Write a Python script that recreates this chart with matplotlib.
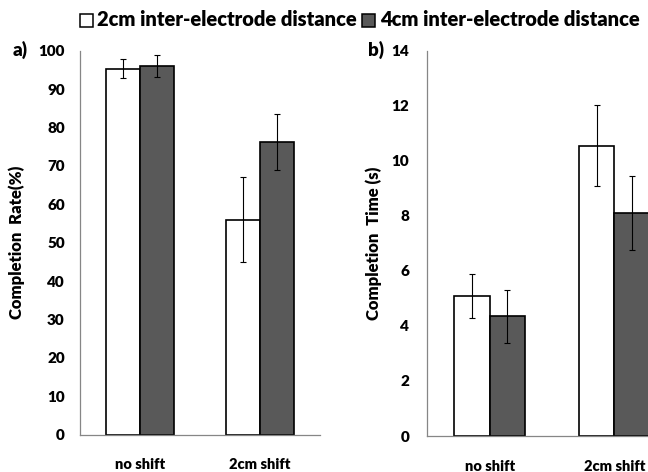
import matplotlib
matplotlib.use("Agg")
import matplotlib.pyplot as plt
import numpy as np
from matplotlib.patches import Rectangle

plt.rcParams['font.family'] = ['Lato', 'DejaVu Sans']

categories = ["no shift", "2cm shift"]
series_names = ["2cm inter-electrode distance", "4cm inter-electrode distance"]

rate_2cm = [95.3, 56.0]
rate_2cm_err = [2.5, 11.0]
rate_4cm = [96.0, 76.2]
rate_4cm_err = [2.8, 7.3]

time_2cm = [5.10, 10.55]
time_2cm_err = [0.80, 1.47]
time_4cm = [4.35, 8.10]
time_4cm_err = [0.97, 1.33]

rate_ticks = [0, 10, 20, 30, 40, 50, 60, 70, 80, 90, 100]
time_ticks = [0, 2, 4, 6, 8, 10, 12, 14]

W, H = 648, 472
fig = plt.figure(figsize=(W / 100, H / 100), dpi=100)

def px_axes(l, r, t, b):
    return fig.add_axes([l / W, 1 - b / H, (r - l) / W, (b - t) / H])

axA = px_axes(80, 320, 50.7, 434.7)
axB = px_axes(427.3, 676.7, 50.7, 436.0)

white = "#ffffff"
dark = "#595959"
spine_c = "#868686"
bw = 0.285
FW = "heavy"

def draw(ax, v1, e1, v2, e2, ticks, ylab, ymax, tick_pad):
    x = np.arange(len(categories))
    ax.bar(x - bw / 2, v1, bw, color=white, edgecolor="black", linewidth=1.2, zorder=2)
    ax.bar(x + bw / 2, v2, bw, color=dark, edgecolor="black", linewidth=1.2, zorder=2)
    ax.errorbar(x - bw / 2, v1, yerr=e1, fmt="none", ecolor="black", elinewidth=0.8,
                capsize=2.3, capthick=0.8, zorder=3)
    ax.errorbar(x + bw / 2, v2, yerr=e2, fmt="none", ecolor="black", elinewidth=0.8,
                capsize=2.3, capthick=0.8, zorder=3)
    ax.set_xlim(-0.5, 1.5)
    ax.set_ylim(0, ymax)
    ax.set_yticks(ticks)
    ax.set_yticklabels([str(t) for t in ticks], fontsize=11, fontweight=FW)
    ax.set_xticks(x)
    ax.set_xticklabels(categories, fontsize=10.5, fontweight=FW)
    ax.tick_params(axis="y", length=0, pad=tick_pad)
    ax.tick_params(axis="x", length=0, pad=17)
    for s in ["top", "right"]:
        ax.spines[s].set_visible(False)
    for s in ["left", "bottom"]:
        ax.spines[s].set_color(spine_c)
        ax.spines[s].set_linewidth(0.9)
    ax.set_ylabel(ylab, fontsize=12, fontweight=FW)
    ax.set_facecolor("none")

draw(axA, rate_2cm, rate_2cm_err, rate_4cm, rate_4cm_err, rate_ticks,
     "Completion  Rate(%)", 100, 11)
draw(axB, time_2cm, time_2cm_err, time_4cm, time_4cm_err, time_ticks,
     "Completion  Time (s)", 14, 13)

axA.yaxis.set_label_coords(-0.229, 0.5)
axB.yaxis.set_label_coords(-0.18, 0.5)

fig.text(13 / W, 1 - 50 / H, "a)", fontsize=13.5, fontweight=FW, va="center", ha="left")
fig.text(368 / W, 1 - 50 / H, "b)", fontsize=13.5, fontweight=FW, va="center", ha="left")

# legend (top)
ly = 1 - 20 / H
fig.patches.append(Rectangle((80 / W, 1 - 26.5 / H), 12.5 / W, 12.5 / H, transform=fig.transFigure,
                             facecolor=white, edgecolor="black", linewidth=1.1))
fig.text(97 / W, ly, series_names[0], fontsize=14.5, fontweight=FW, va="center", ha="left")
fig.patches.append(Rectangle((362 / W, 1 - 26.5 / H), 12.5 / W, 12.5 / H, transform=fig.transFigure,
                             facecolor=dark, edgecolor="black", linewidth=1.1))
fig.text(380 / W, ly, series_names[1], fontsize=14.5, fontweight=FW, va="center", ha="left")

fig.savefig("out.png", dpi=100)
